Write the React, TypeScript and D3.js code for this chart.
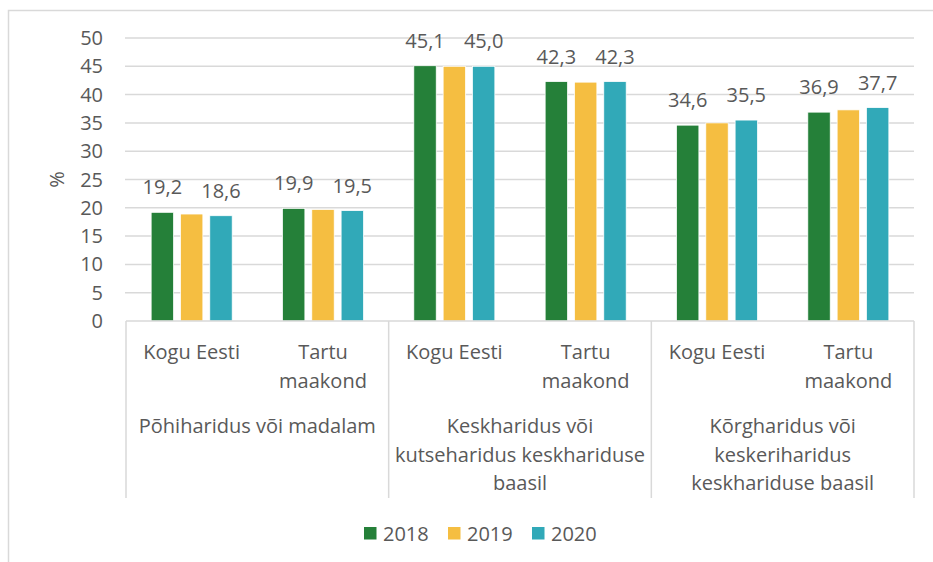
import React, { useEffect, useRef } from 'react';
import * as d3 from 'd3';

// categories (two rows of axis labels)
const regions = ['Kogu Eesti', 'Tartu maakond'];
const regionLines = [['Kogu Eesti'], ['Tartu', 'maakond']];
const levels = [
    'Põhiharidus või madalam',
    'Keskharidus või kutseharidus keskhariduse baasil',
    'Kõrgharidus või keskeriharidus keskhariduse baasil',
];
const levelLines = [
    ['Põhiharidus või madalam'],
    ['Keskharidus või', 'kutseharidus keskhariduse', 'baasil'],
    ['Kõrgharidus või', 'keskeriharidus', 'keskhariduse baasil'],
];

// series
const years = ['2018', '2019', '2020'];
const values2018 = [19.2, 19.9, 45.1, 42.3, 34.6, 36.9];
const values2019 = [18.9, 19.7, 45.0, 42.2, 35.0, 37.3];
const values2020 = [18.6, 19.5, 45.0, 42.3, 35.5, 37.7];
const labelledYears = ['2018', '2020'];

const yTicks = [0, 5, 10, 15, 20, 25, 30, 35, 40, 45, 50];
const yLabel = '%';

const width = 933;
const height = 562;
const colors = { '2018': '#258039', '2019': '#f5be41', '2020': '#31a9b8' };
const textColor = '#595959';
const gridColor = '#d9d9d9';
const font = '"Open Sans", sans-serif';
const fontSize = 20;

export default function App() {
    const svgRef = useRef<SVGSVGElement>(null);

    useEffect(() => {
        const svg = d3.select(svgRef.current);
        svg.selectAll('*').remove();

        const margins = { top: 38, bottom: 241, left: 126, right: 19 };
        const x0Domain = levels.flatMap(l => regions.map(r => `${l}|${r}`));
        const seriesValues = [values2018, values2019, values2020];
        const data = x0Domain.map((key, i) => ({
            key,
            values: years.map((year, j) => ({ year, value: seriesValues[j][i] })),
        }));

        // scales
        const x0 = d3.scaleBand()
            .domain(x0Domain)
            .range([margins.left, width - margins.right])
            .paddingInner(0.383)
            .paddingOuter(0.1915);
        const x1 = d3.scaleBand()
            .domain(years)
            .range([0, x0.bandwidth()])
            .paddingInner(0.236);
        const levelScale = d3.scaleBand()
            .domain(levels)
            .range([margins.left, width - margins.right]);
        const y = d3.scaleLinear()
            .domain([0, 50])
            .range([height - margins.bottom, margins.top]);

        // outer frame
        svg.append('path')
            .attr('d', `M8.5,${height}V10.5H${width}`)
            .attr('fill', 'none')
            .attr('stroke', gridColor)
            .attr('stroke-width', 1.5);

        // gridlines
        svg.append('g')
            .selectAll('line')
            .data(yTicks.filter(d => d > 0))
            .join('line')
            .attr('x1', margins.left - 1)
            .attr('x2', width - margins.right)
            .attr('y1', d => y(d))
            .attr('y2', d => y(d))
            .attr('stroke', gridColor)
            .attr('stroke-width', 1.5);

        // y axis labels
        svg.append('g')
            .selectAll('text')
            .data(yTicks)
            .join('text')
            .attr('x', 103)
            .attr('y', d => y(d))
            .attr('dy', '0.35em')
            .attr('text-anchor', 'end')
            .attr('font-family', font)
            .attr('font-size', fontSize)
            .attr('fill', textColor)
            .text(d => d);
        svg.append('text')
            .attr('transform', `translate(57,${y(25)}) rotate(-90)`)
            .attr('dy', '0.35em')
            .attr('text-anchor', 'middle')
            .attr('font-family', font)
            .attr('font-size', fontSize)
            .attr('fill', textColor)
            .text(yLabel);

        // bars
        const groups = svg.append('g')
            .selectAll('g')
            .data(data)
            .join('g')
            .attr('transform', d => `translate(${x0(d.key)},0)`);
        groups.selectAll('rect')
            .data(d => d.values)
            .join('rect')
            .attr('x', d => x1(d.year)!)
            .attr('width', x1.bandwidth())
            .attr('y', d => y(d.value))
            .attr('height', d => y(0) - y(d.value))
            .attr('fill', d => colors[d.year])
            .attr('stroke', '#ffffff')
            .attr('stroke-width', 0.75);
        groups.selectAll('text')
            .data(d => d.values.filter(v => labelledYears.includes(v.year)))
            .join('text')
            .attr('x', d => x1(d.year)! + x1.bandwidth() / 2)
            .attr('y', d => y(d.value) - 18)
            .attr('text-anchor', 'middle')
            .attr('font-family', font)
            .attr('font-size', fontSize)
            .attr('fill', textColor)
            .text(d => d3.format('.1f')(d.value).replace('.', ','));

        // x axis line + group separators
        const axisY = y(0);
        svg.append('line')
            .attr('x1', margins.left)
            .attr('x2', width - margins.right)
            .attr('y1', axisY)
            .attr('y2', axisY)
            .attr('stroke', gridColor)
            .attr('stroke-width', 1.5);
        const separators = [...levels.map(l => levelScale(l)!), width - margins.right];
        svg.append('g')
            .selectAll('line')
            .data(separators)
            .join('line')
            .attr('x1', d => d)
            .attr('x2', d => d)
            .attr('y1', axisY)
            .attr('y2', 498)
            .attr('stroke', gridColor)
            .attr('stroke-width', 1.5);

        // region labels
        const regionLabels = svg.append('g')
            .selectAll('text')
            .data(x0Domain)
            .join('text')
            .attr('text-anchor', 'middle')
            .attr('font-family', font)
            .attr('font-size', fontSize)
            .attr('fill', textColor);
        regionLabels.selectAll('tspan')
            .data((d, i) => regionLines[i % regions.length].map(line => ({ line, cx: x0(d)! + x0.bandwidth() / 2 })))
            .join('tspan')
            .attr('x', d => d.cx)
            .attr('y', (d, i) => 359 + i * 28.5)
            .text(d => d.line);

        // level labels
        const levelLabels = svg.append('g')
            .selectAll('text')
            .data(levels)
            .join('text')
            .attr('text-anchor', 'middle')
            .attr('font-family', font)
            .attr('font-size', fontSize)
            .attr('fill', textColor);
        levelLabels.selectAll('tspan')
            .data((d, i) => levelLines[i].map(line => ({ line, cx: levelScale(d)! + levelScale.bandwidth() / 2 })))
            .join('tspan')
            .attr('x', d => d.cx)
            .attr('y', (d, i) => 433 + i * 28.5)
            .text(d => d.line);

        // legend
        const legendX = d3.scalePoint().domain(years).range([364, 532]);
        const legend = svg.append('g')
            .selectAll('g')
            .data(years)
            .join('g')
            .attr('transform', d => `translate(${legendX(d)},527)`);
        legend.append('rect')
            .attr('width', 12.5)
            .attr('height', 12.5)
            .attr('fill', d => colors[d]);
        legend.append('text')
            .attr('x', 19)
            .attr('y', 6.5)
            .attr('dy', '0.35em')
            .attr('font-family', font)
            .attr('font-size', fontSize)
            .attr('fill', textColor)
            .text(d => d);
    }, []);

    return (
        <svg
            ref={svgRef}
            width={width}
            height={height}
            style={{ position: 'absolute', left: 0, top: 0, background: '#ffffff' }}
        />
    );
}
